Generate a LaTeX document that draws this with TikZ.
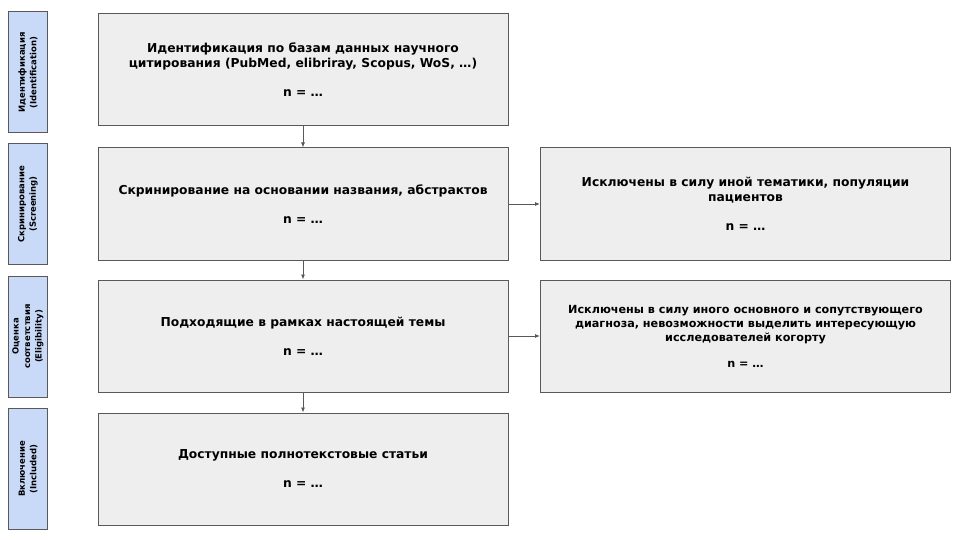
\documentclass[tikz,border=0pt]{standalone}
\usepackage{fontspec}
\setmainfont{DejaVu Sans}
\usepackage{xcolor}
\usepackage{tikz}
\usetikzlibrary{arrows.meta, positioning, calc}
\definecolor{stagefill}{HTML}{C9DAF8}
\definecolor{boxfill}{HTML}{EEEEEE}
\definecolor{edgegray}{HTML}{595959}
\tikzset{
	stage/.style={draw=edgegray, fill=stagefill, line width=1pt, rotate=90, minimum width=121pt, minimum height=39pt,
		inner sep=0pt, align=center, font=\fontsize{8.5}{11.5}\selectfont\bfseries},
	flowbox/.style={draw=edgegray, fill=boxfill, line width=1pt, minimum width=410pt, minimum height=112pt,
		inner sep=0pt, align=center, font=\fontsize{12.3}{15}\selectfont\bfseries},
	flow/.style={-{Latex[length=5pt,width=4pt]}, draw=edgegray, line width=0.8pt}
}

\begin{document}
\begin{tikzpicture}[x=1pt, y=-1pt]
		\useasboundingbox (0,0) rectangle (960,540);

		% stages on the left
		\node[stage] (Identification) at (28,72.5) {Идентификация\\
			(Identification)};
		\node[stage] (Screening) at (28,204) {Скринирование\\
			(Screening)};
		\node[stage] (Eligibility) at (28,336.5) {Оценка\\
			соответствия\\
			(Eligibility)};
		\node[stage] (Included) at (28,469) {Включение\\
			(Included)};

		% main column
		\node[flowbox] (Poisk) at (303,70) {Идентификация по базам данных научного\\
			цитирования (PubMed, elibriray, Scopus, WoS, \dots)\\[14pt]
			n = \dots};
		\node[flowbox] (Skrining) at (303,204) {Скринирование на основании названия, абстрактов\\[14pt]
			n = \dots};
		\node[flowbox] (Podkhodyashchie) at (303,336) {Подходящие в рамках настоящей темы\\[14pt]
			n = \dots};
		\node[flowbox] (Dostupnye) at (303,469) {Доступные полнотекстовые статьи\\[14pt]
			n = \dots};

		% excluded on the right
		\node[flowbox] (Isklyucheny tema) at (745.5,204) {Исключены в силу иной тематики, популяции\\
			пациентов\\[14pt]
			n = \dots};
		\node[flowbox, font=\fontsize{11.2}{14}\selectfont\bfseries] (Isklyucheny diagnoz) at (745.5,336) {Исключены в силу иного основного и сопутствующего\\
			диагноза, невозможности выделить интересующую\\
			исследователей когорту\\[12pt]
			n = \dots};

		\draw[flow] (Poisk) to (Skrining);
		\draw[flow] (Skrining) to (Podkhodyashchie);
		\draw[flow] (Podkhodyashchie) to (Dostupnye);
		\draw[flow] (Skrining) to (Isklyucheny tema);
		\draw[flow] (Podkhodyashchie) to (Isklyucheny diagnoz);
	\end{tikzpicture}
\end{document}
